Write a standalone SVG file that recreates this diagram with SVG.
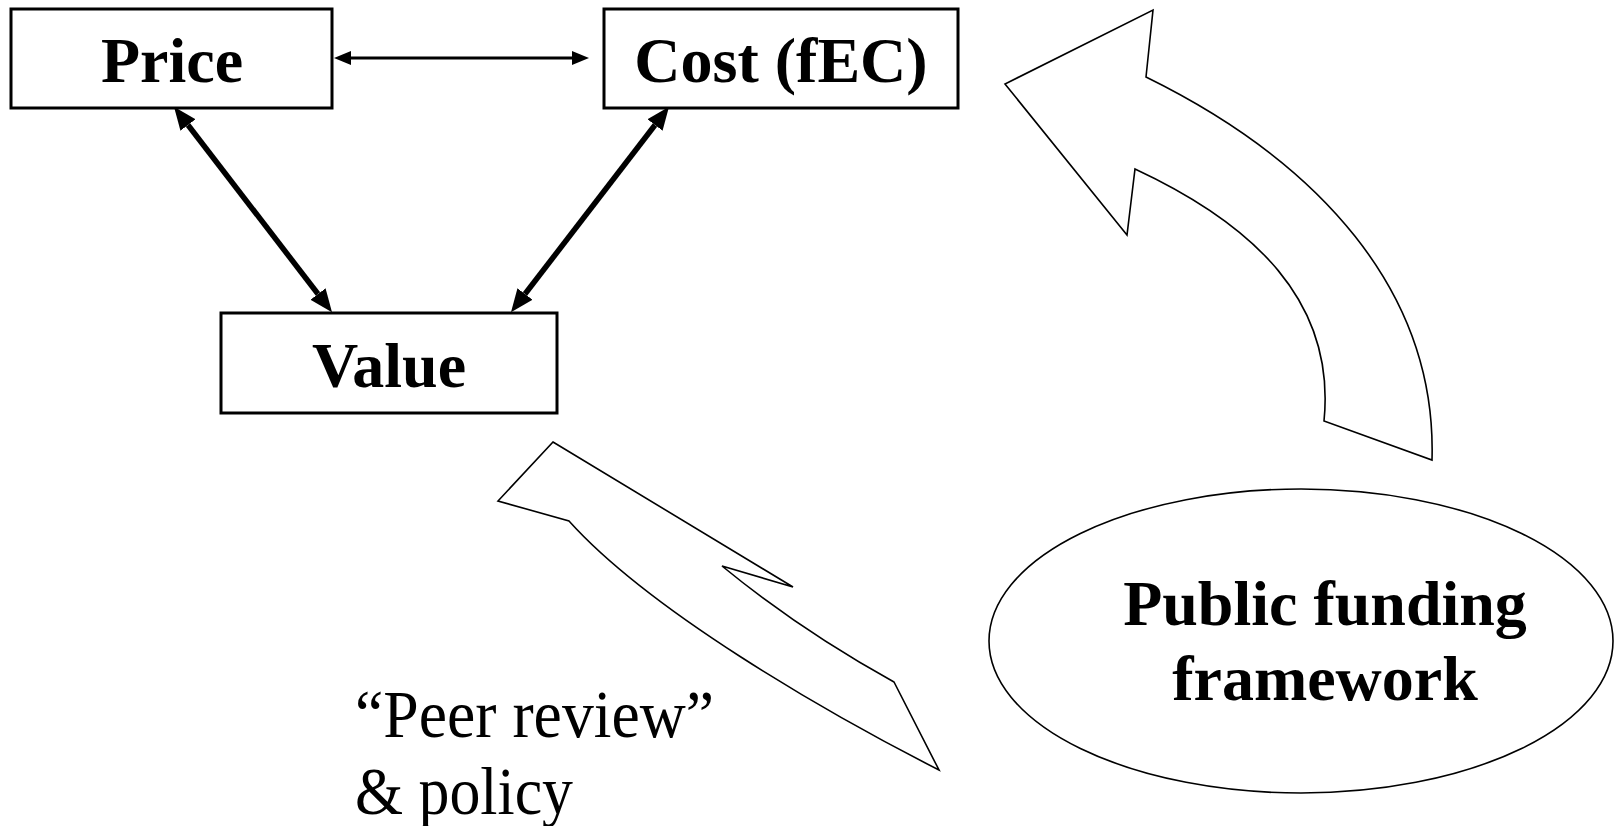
<svg xmlns="http://www.w3.org/2000/svg" width="1619" height="826" viewBox="0 0 1619 826">
<style>
.box{fill:#fff;stroke:#000;stroke-width:3}
.lbl{font-family:"Liberation Serif","Times New Roman",serif;font-weight:bold;font-size:64px;fill:#000;text-anchor:middle}
.plain{font-family:"Liberation Serif","Times New Roman",serif;font-size:68px;fill:#000}
.outline{fill:#fff;stroke:#000;stroke-width:1.6;stroke-linejoin:miter}
.thin{stroke:#000;stroke-width:3.2;fill:none}
.thick{stroke:#000;stroke-width:5.5;fill:none}
</style>
<defs>
<marker id="hThin" markerUnits="userSpaceOnUse" markerWidth="20" markerHeight="18" refX="0" refY="9" orient="auto-start-reverse" viewBox="0 0 20 18"><path d="M0,2 L17,9 L0,16 z" fill="#000"/></marker>
<marker id="hThick" markerUnits="userSpaceOnUse" markerWidth="26" markerHeight="22" refX="0" refY="11" orient="auto-start-reverse" viewBox="0 0 26 22"><path d="M0,1.5 L23,11 L0,20.5 z" fill="#000"/></marker>
</defs>
<rect width="1619" height="826" fill="#fff"/>
<g id="connectors">
<line class="thin" x1="351" y1="58" x2="572" y2="58" marker-start="url(#hThin)" marker-end="url(#hThin)"/>
<line class="thick" x1="188" y1="125" x2="318" y2="294" marker-start="url(#hThick)" marker-end="url(#hThick)"/>
<line class="thick" x1="655" y1="125" x2="525" y2="294" marker-start="url(#hThick)" marker-end="url(#hThick)"/>
</g>
<g id="node-price">
<rect class="box" x="11" y="9" width="321" height="99"/>
<text class="lbl" x="172" y="82">Price</text>
</g>
<g id="node-cost">
<rect class="box" x="604" y="9" width="354" height="99"/>
<text class="lbl" x="781" y="82">Cost (fEC)</text>
</g>
<g id="node-value">
<rect class="box" x="221" y="313" width="336" height="100"/>
<text class="lbl" x="389" y="387">Value</text>
</g>
<g id="arrow-up">
<path class="outline" d="M1146,77 L1153,10 L1005,84 L1127,235 L1135,169 C1253,224 1336,301 1324,421 L1432,460 C1437,290 1317,161 1146,77 Z"/>
</g>
<g id="arrow-down">
<path class="outline" d="M553,442 L793,587 L722,566 Q800,630 894,682 L939,770 C823,711 649,610 569,521 L498,501 Z"/>
</g>
<g id="node-public">
<ellipse cx="1301" cy="641" rx="312" ry="152" fill="#fff" stroke="#000" stroke-width="1.6"/>
<text class="lbl" x="1325" y="625">Public funding</text>
<text class="lbl" x="1325" y="700">framework</text>
</g>
<g id="label-peer">
<text class="plain" x="355" y="737" textLength="359" lengthAdjust="spacingAndGlyphs">“Peer review”</text>
<text class="plain" x="355" y="814" textLength="218" lengthAdjust="spacingAndGlyphs">&amp; policy</text>
</g>
</svg>
